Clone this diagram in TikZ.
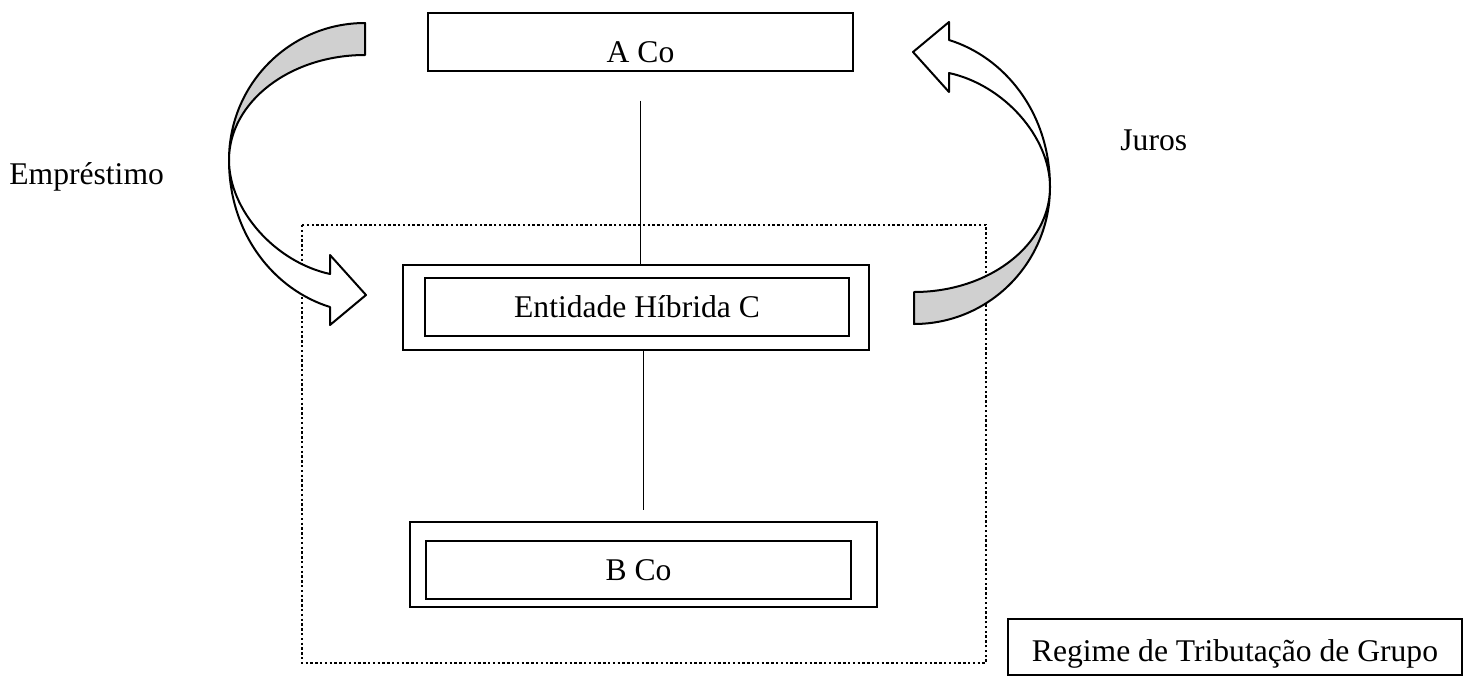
\documentclass[tikz,border=0pt]{standalone}
\usepackage{fontspec}
\setmainfont{Liberation Serif}
\definecolor{bandgray}{RGB}{208,208,208}

\tikzstyle{thinbox} = [draw, line width=0.6pt, inner sep=0pt]
\tikzstyle{thickbox} = [draw, line width=1.3pt, inner sep=0pt]
\tikzstyle{link} = [draw, line width=0.6pt]
\tikzstyle{band} = [draw, line width=1pt, line join=round]
\tikzstyle{label} = [inner sep=0pt, anchor=base west]

% curved arrow, drawn once and turned round for the other side
\newcommand{\twistarrow}{%
	\draw[band, fill=bandgray] (365,23) .. controls (290,23) and (229,84) .. (229,160)
		.. controls (229,102) and (290,55) .. (365,55) -- cycle;
	\draw[band, fill=white] (229,160) .. controls (229,235) and (275,290) .. (330,307)
		-- (330,325) -- (366,295) -- (330,255) -- (330,274)
		.. controls (275,262) and (229,210) .. (229,160) -- cycle;
}

\begin{document}
\begin{tikzpicture}[x=0.5pt, y=-0.5pt, every node/.style={font=\fontsize{15.8}{19}\selectfont}]
		\useasboundingbox (0,0) rectangle (1478,691);
		
		%group
		\draw[line width=1.2pt, dash pattern=on 1.2pt off 1.2pt] (302,225) rectangle (986,663);
		\node[thinbox, minimum width=227pt, minimum height=28pt, text height=14pt, text depth=0pt] (regime) at (1235,647) {Regime de Tributação de Grupo};
		
		%entities
		\node[thinbox, minimum width=212.5pt, minimum height=29pt, text height=20pt, text depth=0pt] (aco) at (640.5,42) {A Co};
		\node[thickbox, minimum width=233pt, minimum height=42.5pt] (hibrida) at (636,307.5) {};
		\node[thinbox, minimum width=212pt, minimum height=29pt] (hibridain) at (637,307) {Entidade Híbrida C};
		\node[thickbox, minimum width=233.5pt, minimum height=42.5pt] (bco) at (643.5,564.5) {};
		\node[thinbox, minimum width=212.5pt, minimum height=29pt] (bcoin) at (638.5,570) {B Co};
		
		%links
		\draw[link] ([yshift=-14.5pt]aco.south) -- (aco.south |- hibrida.north);
		\draw[link] (bco.north |- hibrida.south) -- ([yshift=5.5pt]bco.north);
		
		%arrows
		\twistarrow
		\begin{scope}[rotate around={180:(639.5,173.5)}]
			\twistarrow
		\end{scope}
		
		%labels
		\node[label] (emprestimo) at (9,184) {Empréstimo};
		\node[label] (juros) at (1120,150) {Juros};
\end{tikzpicture}
\end{document}
